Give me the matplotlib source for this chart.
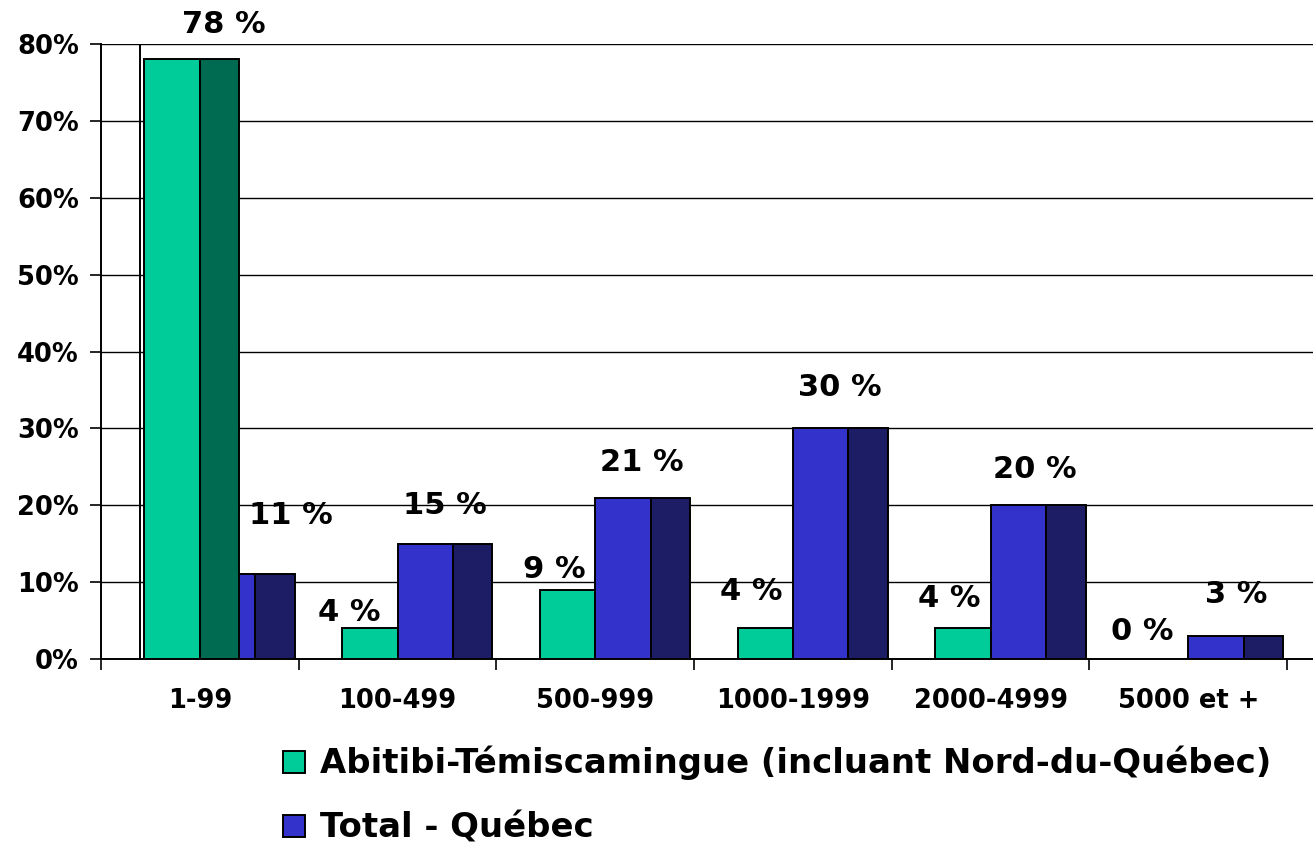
import matplotlib
matplotlib.use("Agg")
import matplotlib.pyplot as plt
from matplotlib.patches import Rectangle

categories = ["1-99", "100-499", "500-999", "1000-1999", "2000-4999", "5000 et +"]
abitibi = [78, 4, 9, 4, 4, 0]
quebec = [11, 15, 21, 30, 20, 3]
series_names = ["Abitibi-Témiscamingue (incluant Nord-du-Québec)", "Total - Québec"]
yticks = [0, 10, 20, 30, 40, 50, 60, 70, 80]

W, H = 1313, 842
plt.rcParams["font.family"] = ["DejaVu Sans"]
plt.rcParams["font.weight"] = "bold"

fig = plt.figure(figsize=(W / 100, H / 100), dpi=100)
def fx(px): return px / W
def fy(py): return 1 - py / H

ax = fig.add_axes([fx(101), fy(659), fx(1313) - fx(101), fy(44) - fy(659)])
ax.set_xlim(0, (1313 - 101) / 197.7)
ax.set_ylim(0, 80)

front_cols = ["#00CC99", "#3333CC"]
side_cols = ["#006B50", "#1D1D66"]
fw, sd = 0.28, 0.20
lw = 1.4

for s, vals in enumerate([abitibi, quebec]):
    xs = [i + 0.22 + fw * s for i in range(len(categories))]
    fronts = ax.bar(xs, vals, width=fw, align="edge", color=front_cols[s],
                    edgecolor="black", linewidth=lw)
    sides = ax.bar([x + fw for x in xs], vals, width=sd, align="edge",
                   color=side_cols[s], edgecolor="black", linewidth=lw)
    for i in range(len(categories)):
        green_front = abitibi[i] > quebec[i]
        if s == 0:
            z = 4 if green_front else 3
        else:
            z = 3 if green_front else 4
        fronts[i].set_zorder(z)
        sides[i].set_zorder(z)
        if vals[i] == 0:
            fronts[i].set_visible(False)
            sides[i].set_visible(False)

# value labels (offsets mimic the 3D label placement of the original)
g_dx = [0.40, 0.034, 0.071, 0.068, 0.069, 0.046]
g_dy = [3.4, 1.0, 1.6, 3.7, 2.7, 2.5]
b_dx = [0.23, 0.01, 0.006, 0.008, -0.006, 0.011]
b_dy = [6.5, 3.9, 3.5, 4.2, 3.6, 4.3]
for i in range(len(categories)):
    ax.text(i + 0.22 + g_dx[i], abitibi[i] + g_dy[i], f"{abitibi[i]} %",
            ha="center", va="baseline", fontsize=22, fontweight="bold",
            clip_on=False, zorder=6)
    ax.text(i + 0.50 + 0.23 + b_dx[i], quebec[i] + b_dy[i], f"{quebec[i]} %",
            ha="center", va="baseline", fontsize=22, fontweight="bold",
            clip_on=False, zorder=6)

# grid and axes
ax.set_yticks(yticks)
ax.set_yticklabels([f"{v}%" for v in yticks])
ax.yaxis.grid(True, color="black", linewidth=1.0)
ax.set_axisbelow(True)
ax.set_xticks(range(len(categories) + 1))
ax.set_xticklabels([])
ax.set_xticks([i + 0.5 for i in range(len(categories))], minor=True)
ax.set_xticklabels(categories, minor=True)
ax.tick_params(axis="x", which="major", length=8, width=1.2, direction="out")
ax.tick_params(axis="x", which="minor", length=0, pad=21, labelsize=18.5)
ax.tick_params(axis="y", length=8, width=1.2, pad=8, labelsize=18.5)
for lab in ax.get_xticklabels(minor=True) + ax.get_yticklabels():
    lab.set_fontweight("bold")
for sp in ["top", "right"]:
    ax.spines[sp].set_visible(False)
ax.spines["left"].set_linewidth(1.4)
ax.spines["bottom"].set_linewidth(1.4)
ax.axvline(39 / 197.7, ymin=0, ymax=1, color="black", linewidth=1.4, zorder=2)

# legend
legend_base = [773, 837]
for s in range(2):
    yb = legend_base[s]
    fig.add_artist(Rectangle((fx(283), fy(yb)), fx(22), fy(0) - fy(22),
                             transform=fig.transFigure, facecolor=front_cols[s],
                             edgecolor="black", linewidth=1.4))
    fig.text(fx(320), fy(yb), series_names[s], ha="left", va="baseline",
             fontsize=24.4, fontweight="bold")

fig.savefig("out.png", dpi=100, facecolor="white")
